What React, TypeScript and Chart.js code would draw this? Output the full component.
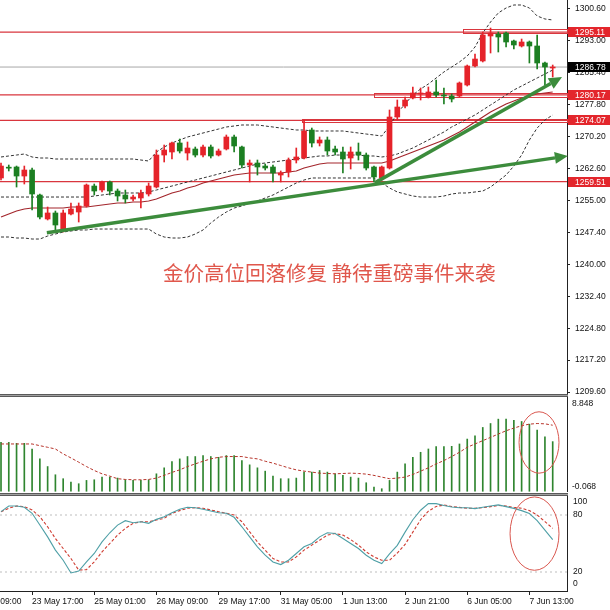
import React, { useEffect, useRef } from "react";
import { Chart, registerables } from "chart.js";

Chart.register(...registerables);

// ---------------- data ----------------
const candleOpen = [
  1260.36, 1262.9, 1262.98, 1260.83, 1262.26, 1256.31, 1250.6, 1252.03, 1247.98, 1251.79,
  1252.26, 1253.69, 1258.45, 1257.5, 1259.41, 1257.26, 1256.31, 1255.36, 1255.6, 1256.55,
  1258.21, 1265.83, 1266.55, 1268.69, 1266.31, 1267.26, 1265.83, 1267.74, 1265.83, 1267.26,
  1270.12, 1267.74, 1263.45, 1263.93, 1263.21, 1262.98, 1261.07, 1261.79, 1264.64, 1265.12,
  1271.79, 1268.69, 1269.41, 1267.26, 1266.55, 1265.12, 1266.55, 1265.83, 1262.98, 1260.36,
  1262.74, 1274.88, 1277.5, 1279.41, 1280.36, 1279.65, 1280.84, 1280.12, 1279.88, 1279.88,
  1282.5, 1287.03, 1288.22, 1294.17, 1294.64, 1294.88, 1292.98, 1291.79, 1292.74, 1291.79,
  1287.74, 1286.55,
];
const candleHigh = [
  1263.93, 1263.45, 1263.21, 1263.21, 1262.74, 1256.55, 1253.45, 1252.5, 1252.74, 1254.41,
  1254.41, 1258.93, 1258.93, 1259.64, 1259.64, 1257.74, 1257.5, 1256.31, 1257.5, 1259.17,
  1267.03, 1268.21, 1268.93, 1269.64, 1268.93, 1267.74, 1268.21, 1268.21, 1267.26, 1270.6,
  1270.6, 1267.98, 1264.64, 1264.64, 1263.69, 1263.45, 1262.03, 1265.12, 1267.5, 1274.17,
  1272.26, 1270.12, 1270.12, 1267.98, 1267.74, 1267.74, 1268.69, 1266.31, 1263.21, 1263.21,
  1276.55, 1278.93, 1279.65, 1282.03, 1281.79, 1282.03, 1283.69, 1281.79, 1280.36, 1283.22,
  1287.26, 1289.88, 1295.12, 1296.07, 1295.12, 1295.12, 1293.22, 1293.45, 1292.98, 1294.41,
  1287.98, 1287.26,
];
const candleLow = [
  1259.88, 1262.03, 1258.21, 1258.93, 1252.74, 1250.6, 1250.36, 1247.98, 1247.5, 1251.55,
  1249.88, 1253.45, 1256.31, 1257.03, 1256.31, 1254.88, 1254.41, 1254.88, 1253.21, 1256.07,
  1257.98, 1264.17, 1264.88, 1266.31, 1264.64, 1265.36, 1265.36, 1265.12, 1265.6, 1267.03,
  1266.55, 1262.74, 1259.41, 1261.07, 1262.26, 1259.41, 1259.41, 1260.6, 1263.93, 1264.88,
  1267.74, 1267.98, 1265.83, 1265.83, 1261.55, 1262.5, 1264.64, 1262.26, 1259.41, 1259.88,
  1262.5, 1274.17, 1277.03, 1279.17, 1278.93, 1279.41, 1279.65, 1277.98, 1278.46, 1279.65,
  1282.26, 1286.79, 1287.98, 1290.12, 1290.36, 1291.55, 1291.07, 1291.55, 1287.74, 1286.31,
  1282.5, 1284.41,
];
const candleClose = [
  1263.21, 1262.7, 1260.83, 1262.26, 1256.55, 1251.07, 1252.03, 1249.17, 1252.03, 1252.98,
  1253.69, 1258.69, 1257.26, 1259.41, 1257.26, 1256.07, 1255.36, 1255.83, 1256.79, 1258.45,
  1265.83, 1267.03, 1268.69, 1266.79, 1267.5, 1265.83, 1267.74, 1265.6, 1266.79, 1270.12,
  1267.98, 1263.45, 1263.93, 1262.98, 1262.74, 1261.55, 1261.55, 1264.64, 1265.36, 1271.55,
  1268.69, 1269.41, 1266.79, 1266.55, 1264.88, 1266.55, 1265.83, 1262.74, 1260.6, 1262.98,
  1274.88, 1277.26, 1278.93, 1280.6, 1280.6, 1280.84, 1280.12, 1279.88, 1279.17, 1282.98,
  1287.03, 1288.69, 1294.41, 1294.88, 1293.93, 1292.74, 1292.03, 1292.74, 1291.79, 1287.74,
  1286.79, 1286.78,
];

const bbUpper = [
  1265.36, 1265.6, 1265.83, 1266.07, 1265.36, 1265.12, 1265.12, 1264.88, 1264.88, 1264.88,
  1264.88, 1264.88, 1264.88, 1264.88, 1264.88, 1264.88, 1264.88, 1264.88, 1264.64, 1264.41,
  1266.55, 1267.74, 1268.69, 1269.41, 1270.12, 1270.6, 1271.07, 1271.55, 1272.02, 1272.5,
  1272.74, 1272.98, 1272.98, 1272.98, 1272.74, 1272.5, 1272.26, 1272.02, 1271.79, 1271.79,
  1271.55, 1271.55, 1271.55, 1271.55, 1271.55, 1271.31, 1271.07, 1270.83, 1270.6, 1270.36,
  1272.74, 1275.83, 1277.98, 1280.12, 1281.55, 1282.74, 1284.17, 1285.6, 1286.79, 1287.98,
  1289.41, 1291.55, 1294.88, 1297.5, 1299.65, 1300.84, 1301.55, 1301.55, 1300.84, 1298.93,
  1298.22, 1297.98,
];
const bbMiddle = [
  1255.83, 1255.83, 1255.83, 1255.83, 1255.83, 1255.83, 1255.83, 1255.83, 1255.83, 1255.83,
  1255.83, 1255.83, 1256.07, 1256.31, 1256.55, 1256.79, 1256.79, 1256.79, 1256.79, 1257.03,
  1257.5, 1257.98, 1258.45, 1258.93, 1259.41, 1259.88, 1260.36, 1260.83, 1261.31, 1261.79,
  1262.26, 1262.74, 1263.21, 1263.69, 1263.93, 1264.17, 1264.41, 1264.64, 1264.88, 1265.12,
  1265.36, 1265.6, 1265.6, 1265.83, 1265.83, 1265.83, 1265.83, 1265.6, 1265.6, 1265.36,
  1265.6, 1266.07, 1266.79, 1267.5, 1268.45, 1269.41, 1270.36, 1271.31, 1272.5, 1273.45,
  1274.41, 1275.36, 1276.55, 1277.74, 1278.93, 1280.12, 1281.31, 1282.26, 1283.22, 1284.17,
  1285.12, 1286.07,
];
const bbLower = [
  1246.31, 1246.31, 1246.07, 1246.07, 1245.83, 1245.83, 1246.55, 1247.02, 1247.5, 1247.74,
  1247.98, 1247.98, 1248.21, 1248.21, 1248.21, 1248.21, 1248.21, 1248.21, 1248.21, 1248.21,
  1247.02, 1246.31, 1246.07, 1246.07, 1246.31, 1247.02, 1247.98, 1249.64, 1251.07, 1252.26,
  1253.21, 1253.69, 1254.41, 1254.88, 1255.6, 1256.31, 1257.26, 1258.21, 1259.17, 1259.88,
  1260.36, 1260.36, 1260.36, 1260.36, 1260.36, 1260.36, 1260.36, 1260.36, 1260.36, 1259.17,
  1257.98, 1257.03, 1256.55, 1256.07, 1255.83, 1255.83, 1255.83, 1256.07, 1256.55, 1256.79,
  1256.79, 1257.03, 1257.26, 1258.21, 1259.64, 1261.07, 1263.21, 1265.83, 1269.41, 1272.26,
  1274.17, 1275.36,
];
const maLine = [
  1251.07, 1251.79, 1252.5, 1252.98, 1253.21, 1253.21, 1253.21, 1253.21, 1253.21, 1253.45,
  1253.45, 1253.45, 1253.69, 1253.93, 1254.17, 1254.41, 1254.41, 1254.64, 1254.64, 1254.88,
  1255.36, 1256.07, 1256.79, 1257.26, 1257.98, 1258.45, 1259.17, 1259.64, 1260.12, 1260.6,
  1261.07, 1261.31, 1261.55, 1261.55, 1261.55, 1261.55, 1261.55, 1261.79, 1262.03, 1262.74,
  1263.21, 1263.69, 1263.93, 1263.93, 1263.93, 1263.93, 1263.93, 1263.93, 1263.93, 1263.93,
  1264.41, 1265.12, 1265.83, 1266.55, 1267.26, 1267.98, 1268.69, 1269.41, 1270.36, 1271.31,
  1272.5, 1273.69, 1274.88, 1276.07, 1277.03, 1277.98, 1278.69, 1279.41, 1279.88, 1280.36,
  1280.6, 1280.84,
];

const macdHist = [
  4.59, 4.59, 4.5, 4.5, 3.97, 3.04, 2.32, 1.55, 1.18, 0.86,
  0.71, 1.02, 1.08, 1.33, 1.33, 1.24, 1.08, 1.02, 1.02, 1.08,
  1.64, 2.2, 2.79, 3.04, 3.26, 3.26, 3.35, 3.26, 3.19, 3.35,
  3.35, 2.88, 2.48, 2.2, 1.89, 1.42, 1.18, 1.18, 1.24, 1.8,
  1.8, 1.95, 1.8, 1.64, 1.49, 1.33, 1.24, 0.8, 0.4, 0.24,
  1.02, 1.8, 2.57, 3.19, 3.66, 3.97, 4.19, 4.19, 4.22, 4.44,
  4.9, 5.21, 5.99, 6.36, 6.77, 6.77, 6.67, 6.55, 6.3, 5.74,
  5.12, 4.66,
];
const macdSignal = [
  4.44, 4.44, 4.44, 4.44, 4.44, 4.28, 4.13, 3.97, 3.51, 3.13,
  2.73, 2.32, 1.95, 1.64, 1.42, 1.18, 1.11, 1.08, 1.08, 1.11,
  1.24, 1.49, 1.77, 2.01, 2.32, 2.57, 2.82, 3.04, 3.19, 3.26,
  3.26, 3.26, 3.13, 3.04, 2.82, 2.64, 2.42, 2.2, 2.01, 1.89,
  1.8, 1.7, 1.67, 1.64, 1.67, 1.7, 1.67, 1.61, 1.49, 1.33,
  1.18, 1.24, 1.33, 1.58, 1.89, 2.2, 2.57, 2.88, 3.26, 3.66,
  4.13, 4.44, 4.75, 5.06, 5.37, 5.68, 5.93, 6.15, 6.3, 6.36,
  6.33, 6.2,
];

const stochK = [
  83.5, 89.5, 89.5, 88.1, 81.8, 69.4, 57.0, 43.0, 32.4, 19.0,
  21.0, 30.6, 39.5, 51.7, 61.3, 69.4, 74.0, 71.9, 72.9, 71.2,
  75.4, 78.2, 82.4, 86.0, 88.1, 87.7, 86.0, 84.2, 82.4, 81.8,
  77.6, 67.6, 57.0, 46.5, 37.7, 30.6, 27.8, 32.4, 39.5, 46.5,
  50.0, 57.0, 61.3, 60.6, 55.3, 50.0, 44.7, 37.7, 32.4, 28.9,
  39.0, 48.0, 62.0, 75.0, 85.0, 92.0, 92.0, 90.0, 88.5, 87.7,
  87.7, 86.7, 88.1, 89.5, 90.6, 88.8, 87.0, 84.6, 81.5, 74.0,
  64.0, 54.0,
];
const stochD = [
  83.5, 87.1, 89.5, 88.8, 85.3, 78.2, 67.6, 55.3, 44.7, 34.2,
  22.0, 22.5, 30.6, 41.2, 50.0, 58.8, 65.9, 71.2, 72.9, 72.9,
  74.7, 76.5, 81.8, 84.6, 87.1, 87.7, 87.1, 85.3, 83.5, 81.8,
  80.0, 72.9, 62.3, 51.7, 42.9, 34.2, 30.6, 30.6, 35.9, 43.0,
  48.3, 53.5, 58.8, 60.6, 58.8, 54.2, 48.3, 41.2, 35.9, 32.4,
  32.4, 40.0, 49.0, 62.0, 75.0, 84.0, 89.0, 90.5, 89.0, 88.0,
  87.1, 87.1, 87.7, 88.8, 90.0, 89.5, 88.1, 87.1, 84.6, 80.0,
  73.0, 66.0,
];

const priceTickValues = [1300.6, 1293.0, 1285.4, 1277.8, 1270.2, 1262.6, 1255.0, 1247.4, 1239.8, 1232.2, 1224.6, 1217.0, 1209.4];
const priceTickLabels = ["1300.60", "1293.00", "1285.40", "1277.80", "1270.20", "1262.60", "1255.00", "1247.40", "1240.00", "1232.40", "1224.80", "1217.20", "1209.60"];
const macdTickValues = [8.19, 0.4];
const macdTickLabels = ["8.848", "-0.068"];
const stochTickValues = [93.7, 80, 20, 7.4];
const stochTickLabels = ["100", "80", "20", "0"];
const stochLevels = [80, 20];
const timeTickIndex = [-4, 4, 12, 20, 28, 36, 44, 52, 60, 68];
const timeTickLabels = ["22 May 09:00", "23 May 17:00", "25 May 01:00", "26 May 09:00", "29 May 17:00", "31 May 05:00", "1 Jun 13:00", "2 Jun 21:00", "6 Jun 05:00", "7 Jun 13:00"];

const levelPrices = [1295.11, 1280.17, 1274.07, 1259.51];
const currentPrice = 1286.78;
const zoneStartIndex = [59.4, 48.0, 38.7];
const zoneTopPrice = [1295.76, 1280.5, 1274.3];
const zoneBottomPrice = [1294.81, 1279.55, 1273.6];
const arrowFromIndex = [5.9, 48.1];
const arrowFromPrice = [1247.3, 1259.2];
const arrowToIndex = [72.95, 72.2];
const arrowToPrice = [1265.6, 1284.4];
const macdCircle = [69.24, 4.58, 2.57, 2.88];
const stochCircle = [68.66, 60.4, 3.15, 38.6];
const titleText = "金价高位回落修复 静待重磅事件来袭";

// ---------------- styling / layout ----------------
const X_MIN = -0.13;
const X_MAX = 72.84;
const MAIN_MIN = 1208.93;
const MAIN_MAX = 1302.74;
const FONT = { family: '"Liberation Sans", Arial, sans-serif', size: 8.5 };
const RED = "#e5232a";
const GREEN = "#1c7f22";
const LEVEL_RED = "#d9363e";
const ARROW_GREEN = "#3c8c3c";
const BAND_GRAY = "#333333";
const AXIS_W = 43;

function fitY(scale: any) {
  scale.width = AXIS_W;
  scale.paddingTop = 0;
  scale.paddingBottom = 0;
}

export default function App() {
  const mainRef = useRef<HTMLCanvasElement>(null);
  const macdRef = useRef<HTMLCanvasElement>(null);
  const stochRef = useRef<HTMLCanvasElement>(null);

  useEffect(() => {
    const idx = candleOpen.map((_, i) => i);
    const candleColors = idx.map((i) => (candleClose[i] >= candleOpen[i] ? RED : GREEN));
    const base: any = {
      responsive: false,
      animation: false,
      events: [],
      layout: { padding: 0 },
      plugins: { legend: { display: false }, tooltip: { enabled: false } },
    };
    const lineDs = (vals: number[], color: string, dash: number[], order: number, width = 1) => ({
      type: "line",
      data: idx.map((i) => ({ x: i, y: vals[i] })),
      borderColor: color,
      borderWidth: width,
      borderDash: dash,
      pointRadius: 0,
      tension: 0,
      fill: false,
      order,
    });
    const hLine = (p: number, color: string, width: number, order: number, dash: number[] = []) => ({
      type: "line",
      data: [
        { x: X_MIN, y: p },
        { x: X_MAX, y: p },
      ],
      borderColor: color,
      borderWidth: width,
      borderDash: dash,
      pointRadius: 0,
      fill: false,
      order,
    });
    const hiddenX = { type: "linear", min: X_MIN, max: X_MAX, display: false, offset: false, grid: { offset: false } };

    const ellipse = (chart: any, c: number[]) => {
      const xs = chart.scales.x;
      const ys = chart.scales.y;
      const cx = xs.getPixelForValue(c[0]);
      const cy = ys.getPixelForValue(c[1]);
      const rx = Math.abs(xs.getPixelForValue(c[0] + c[2]) - cx);
      const ry = Math.abs(ys.getPixelForValue(c[1] + c[3]) - cy);
      const ctx = chart.ctx;
      ctx.save();
      ctx.strokeStyle = "#d9574f";
      ctx.lineWidth = 1;
      ctx.beginPath();
      ctx.ellipse(cx, cy, rx, ry, 0, 0, Math.PI * 2);
      ctx.stroke();
      ctx.restore();
    };

    const mainPlugin = {
      id: "mainDecor",
      beforeDatasetsDraw(chart: any) {
        const { ctx, chartArea } = chart;
        const xs = chart.scales.x;
        const ys = chart.scales.y;
        ctx.save();
        ctx.strokeStyle = LEVEL_RED;
        ctx.lineWidth = 1;
        zoneStartIndex.forEach((s, k) => {
          const x0 = xs.getPixelForValue(s);
          const y0 = ys.getPixelForValue(zoneTopPrice[k]);
          const y1 = ys.getPixelForValue(zoneBottomPrice[k]);
          ctx.strokeRect(Math.round(x0) + 0.5, Math.round(y0) + 0.5, chartArea.right - Math.round(x0), Math.round(y1 - y0));
        });
        ctx.restore();
      },
      afterDatasetsDraw(chart: any) {
        const { ctx } = chart;
        const xs = chart.scales.x;
        const ys = chart.scales.y;
        ctx.save();
        ctx.strokeStyle = ARROW_GREEN;
        ctx.fillStyle = ARROW_GREEN;
        ctx.lineWidth = 3.5;
        arrowFromIndex.forEach((fi, k) => {
          const x1 = xs.getPixelForValue(fi);
          const y1 = ys.getPixelForValue(arrowFromPrice[k]);
          const x2 = xs.getPixelForValue(arrowToIndex[k]);
          const y2 = ys.getPixelForValue(arrowToPrice[k]);
          const a = Math.atan2(y2 - y1, x2 - x1);
          const L = 13;
          const W = 6;
          const bx = x2 - L * Math.cos(a);
          const by = y2 - L * Math.sin(a);
          ctx.beginPath();
          ctx.moveTo(x1, y1);
          ctx.lineTo(bx, by);
          ctx.stroke();
          ctx.beginPath();
          ctx.moveTo(x2, y2);
          ctx.lineTo(bx - W * Math.sin(a), by + W * Math.cos(a));
          ctx.lineTo(bx + W * Math.sin(a), by - W * Math.cos(a));
          ctx.closePath();
          ctx.fill();
        });
        ctx.restore();
      },
      afterDraw(chart: any) {
        const { ctx, chartArea } = chart;
        const ys = chart.scales.y;
        ctx.save();
        ctx.font = `${FONT.size}px ${FONT.family}`;
        ctx.textBaseline = "middle";
        ctx.textAlign = "left";
        const tag = (p: number, bg: string) => {
          const y = Math.round(ys.getPixelForValue(p));
          ctx.fillStyle = bg;
          ctx.fillRect(chartArea.right + 1, y - 5, chart.width - chartArea.right - 1, 10);
          ctx.fillStyle = "#ffffff";
          ctx.fillText(p.toFixed(2), chartArea.right + 8, y + 0.5);
        };
        levelPrices.forEach((p) => tag(p, "#e3262c"));
        tag(currentPrice, "#000000");
        ctx.restore();
      },
    };

    const mainChart = new Chart(mainRef.current as any, {
      type: "bar",
      data: {
        datasets: [
          {
            type: "bar",
            data: idx.map((i) => ({ x: i, y: [candleOpen[i], candleClose[i]] })),
            backgroundColor: candleColors,
            borderWidth: 0,
            barThickness: 5,
            minBarLength: 1,
            grouped: false,
            order: 1,
          },
          {
            type: "bar",
            data: idx.map((i) => ({ x: i, y: [candleLow[i], candleHigh[i]] })),
            backgroundColor: candleColors,
            borderWidth: 0,
            barThickness: 1,
            grouped: false,
            order: 2,
          },
          lineDs(bbUpper, BAND_GRAY, [3, 2], 3),
          lineDs(bbMiddle, BAND_GRAY, [3, 2], 3),
          lineDs(bbLower, BAND_GRAY, [3, 2], 3),
          lineDs(maLine, "#a3262c", [], 3, 1.2),
          ...levelPrices.map((p) => hLine(p, LEVEL_RED, 1.2, 5)),
          hLine(currentPrice, "#a8a8a8", 1, 5),
        ] as any,
      },
      options: {
        ...base,
        scales: {
          x: hiddenX,
          y: {
            type: "linear",
            position: "right",
            min: MAIN_MIN,
            max: MAIN_MAX,
            afterBuildTicks: (s: any) => {
              s.ticks = priceTickValues.map((v) => ({ value: v }));
            },
            afterFit: fitY,
            ticks: { padding: 5, color: "#111", font: FONT, callback: (_v: any, i: number) => priceTickLabels[i] },
            grid: { drawOnChartArea: false, drawTicks: true, tickLength: 3, color: "#222" },
            border: { display: true, color: "#222" },
          },
        },
      } as any,
      plugins: [mainPlugin],
    });

    const macdChart = new Chart(macdRef.current as any, {
      type: "bar",
      data: {
        datasets: [
          lineDs(macdSignal, "#b7342b", [3, 2], 1),
          {
            type: "bar",
            data: idx.map((i) => ({ x: i, y: macdHist[i] })),
            backgroundColor: "#2f852f",
            borderWidth: 0,
            barThickness: 1,
            grouped: false,
            order: 2,
          },
        ] as any,
      },
      options: {
        ...base,
        scales: {
          x: hiddenX,
          y: {
            type: "linear",
            position: "right",
            min: -0.068,
            max: 8.848,
            afterBuildTicks: (s: any) => {
              s.ticks = macdTickValues.map((v) => ({ value: v }));
            },
            afterFit: fitY,
            ticks: { padding: 5, color: "#111", font: FONT, callback: (_v: any, i: number) => macdTickLabels[i] },
            grid: { display: false, drawTicks: false },
            border: { display: true, color: "#222" },
          },
        },
      } as any,
      plugins: [
        {
          id: "macdCircle",
          afterDatasetsDraw(chart: any) {
            ellipse(chart, macdCircle);
          },
        },
      ],
    });

    const stochChart = new Chart(stochRef.current as any, {
      type: "line",
      data: {
        datasets: [
          lineDs(stochK, "#4e9fa6", [], 1, 1.1),
          lineDs(stochD, "#cf3b30", [3, 2], 2, 1.1),
          ...stochLevels.map((v) => hLine(v, "#bdbdbd", 1, 3, [2, 3])),
        ] as any,
      },
      options: {
        ...base,
        scales: {
          x: {
            type: "linear",
            min: X_MIN,
            max: X_MAX,
            position: "bottom",
            offset: false,
            afterBuildTicks: (s: any) => {
              s.ticks = timeTickIndex.map((v) => ({ value: v }));
            },
            afterFit: (s: any) => {
              s.height = 19;
              s.paddingLeft = 0;
              s.paddingRight = 0;
            },
            ticks: {
              autoSkip: false,
              maxRotation: 0,
              minRotation: 0,
              align: "start",
              padding: 2,
              color: "#111",
              font: FONT,
              callback: (_v: any, i: number) => timeTickLabels[i],
            },
            grid: { drawOnChartArea: false, drawTicks: true, tickLength: 4, color: "#222", offset: false },
            border: { display: true, color: "#222" },
          },
          y: {
            type: "linear",
            position: "right",
            min: 0,
            max: 100,
            afterBuildTicks: (s: any) => {
              s.ticks = stochTickValues.map((v) => ({ value: v }));
            },
            afterFit: fitY,
            ticks: { padding: 6, color: "#111", font: FONT, callback: (_v: any, i: number) => stochTickLabels[i] },
            grid: { display: false, drawTicks: false },
            border: { display: true, color: "#222" },
          },
        },
      } as any,
      plugins: [
        {
          id: "stochCircle",
          afterDatasetsDraw(chart: any) {
            ellipse(chart, stochCircle);
          },
        },
      ],
    });

    return () => {
      mainChart.destroy();
      macdChart.destroy();
      stochChart.destroy();
    };
  }, []);

  const sep = (top: number): React.CSSProperties => ({
    position: "absolute",
    left: 0,
    top,
    width: 568,
    height: 1,
    background: "#a0a0a0",
    borderTop: "1px solid #5a5a5a",
    borderBottom: "1px solid #5a5a5a",
    zIndex: 2,
  });

  return (
    <div style={{ position: "absolute", left: 0, top: 0, width: 610, height: 610, background: "#fff", overflow: "hidden" }}>
      <canvas ref={mainRef} width={610} height={394} style={{ position: "absolute", left: 0, top: 0, width: 610, height: 394 }} />
      <canvas ref={macdRef} width={610} height={95} style={{ position: "absolute", left: 0, top: 397, width: 610, height: 95 }} />
      <canvas ref={stochRef} width={610} height={114} style={{ position: "absolute", left: 0, top: 496, width: 610, height: 114 }} />
      <div style={sep(394)} />
      <div style={sep(493)} />
      <div
        style={{
          position: "absolute",
          left: 163,
          top: 261,
          fontFamily: '"Noto Sans CJK SC", sans-serif',
          fontSize: 20.5,
          lineHeight: "22px",
          color: "#e0574c",
          whiteSpace: "nowrap",
          zIndex: 3,
        }}
      >
        {titleText}
      </div>
    </div>
  );
}
